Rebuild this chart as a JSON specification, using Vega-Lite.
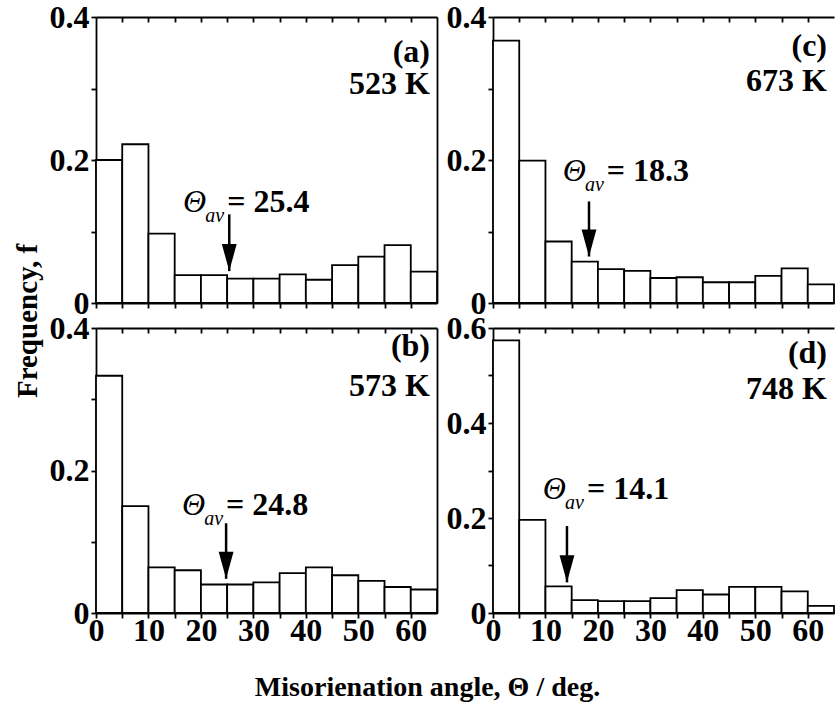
{
"$schema": "https://vega.github.io/schema/vega-lite/v6.json",
"padding": {"left": 13, "top": 1, "right": 0, "bottom": 2},
"datasets": {
"bars": [
{"p":"a","x0":0,"x1":5,"f":0.200},{"p":"a","x0":5,"x1":10,"f":0.222},{"p":"a","x0":10,"x1":15,"f":0.097},{"p":"a","x0":15,"x1":20,"f":0.039},{"p":"a","x0":20,"x1":25,"f":0.039},{"p":"a","x0":25,"x1":30,"f":0.034},{"p":"a","x0":30,"x1":35,"f":0.034},{"p":"a","x0":35,"x1":40,"f":0.040},{"p":"a","x0":40,"x1":45,"f":0.0325},{"p":"a","x0":45,"x1":50,"f":0.053},{"p":"a","x0":50,"x1":55,"f":0.065},{"p":"a","x0":55,"x1":60,"f":0.081},{"p":"a","x0":60,"x1":65,"f":0.044},
{"p":"b","x0":0,"x1":5,"f":0.333},{"p":"b","x0":5,"x1":10,"f":0.150},{"p":"b","x0":10,"x1":15,"f":0.064},{"p":"b","x0":15,"x1":20,"f":0.060},{"p":"b","x0":20,"x1":25,"f":0.040},{"p":"b","x0":25,"x1":30,"f":0.040},{"p":"b","x0":30,"x1":35,"f":0.043},{"p":"b","x0":35,"x1":40,"f":0.056},{"p":"b","x0":40,"x1":45,"f":0.064},{"p":"b","x0":45,"x1":50,"f":0.053},{"p":"b","x0":50,"x1":55,"f":0.045},{"p":"b","x0":55,"x1":60,"f":0.0365},{"p":"b","x0":60,"x1":65,"f":0.033},
{"p":"c","x0":0,"x1":5,"f":0.367},{"p":"c","x0":5,"x1":10,"f":0.199},{"p":"c","x0":10,"x1":15,"f":0.086},{"p":"c","x0":15,"x1":20,"f":0.058},{"p":"c","x0":20,"x1":25,"f":0.0475},{"p":"c","x0":25,"x1":30,"f":0.045},{"p":"c","x0":30,"x1":35,"f":0.035},{"p":"c","x0":35,"x1":40,"f":0.036},{"p":"c","x0":40,"x1":45,"f":0.029},{"p":"c","x0":45,"x1":50,"f":0.029},{"p":"c","x0":50,"x1":55,"f":0.038},{"p":"c","x0":55,"x1":60,"f":0.0485},{"p":"c","x0":60,"x1":65,"f":0.026},
{"p":"d","x0":0,"x1":5,"f":0.574},{"p":"d","x0":5,"x1":10,"f":0.196},{"p":"d","x0":10,"x1":15,"f":0.056},{"p":"d","x0":15,"x1":20,"f":0.027},{"p":"d","x0":20,"x1":25,"f":0.025},{"p":"d","x0":25,"x1":30,"f":0.025},{"p":"d","x0":30,"x1":35,"f":0.0315},{"p":"d","x0":35,"x1":40,"f":0.048},{"p":"d","x0":40,"x1":45,"f":0.039},{"p":"d","x0":45,"x1":50,"f":0.055},{"p":"d","x0":50,"x1":55,"f":0.055},{"p":"d","x0":55,"x1":60,"f":0.0455},{"p":"d","x0":60,"x1":65,"f":0.015}
],
"ann": [
{"p":"a","avg":25.4,"top":0.124,"tip":0.0446,"lx":25.0,"ly":0.127,"lab":"= 25.4"},
{"p":"b","avg":24.8,"top":0.126,"tip":0.048,"lx":24.8,"ly":0.138,"lab":"= 24.8"},
{"p":"c","avg":18.3,"top":0.142,"tip":0.065,"lx":21.7,"ly":0.170,"lab":"= 18.3"},
{"p":"d","avg":14.1,"top":0.183,"tip":0.0645,"lx":17.9,"ly":0.239,"lab":"= 14.1"}
],
"tags": [
{"p":"a","t":"(a)","x":65,"y":0.337},{"p":"a","t":"523 K","x":65,"y":0.293},
{"p":"b","t":"(b)","x":65,"y":0.361},{"p":"b","t":"573 K","x":65,"y":0.305},
{"p":"c","t":"(c)","x":65,"y":0.345},{"p":"c","t":"673 K","x":65,"y":0.297},
{"p":"d","t":"(d)","x":65,"y":0.527},{"p":"d","t":"748 K","x":65,"y":0.451}
]
},
"title": {"text": "Frequency, f", "orient": "left", "anchor": "middle", "fontSize": 29, "offset": 6, "dx": 30},
"columns": 2,
"spacing": {"row": 25, "column": 56},
"bounds": "flush",
"concat": [
{"width": 341, "height": 286,
"resolve": {"axis": {"x": "independent", "y": "independent"}},
"layer": [
{"data": {"name": "bars"}, "transform": [{"filter": "datum.p=='a'"}],
"mark": {"type": "bar", "fill": "white", "stroke": "black", "strokeWidth": 1.8},
"encoding": {
"x": {"field": "x0", "type": "quantitative", "scale": {"domain": [0,65], "nice": false, "zero": false}, "axis": {"orient": "bottom", "values": [0,5,10,15,20,25,30,35,40,45,50,55,60], "labels": false, "tickSize": 5, "title": null}},
"x2": {"field": "x1"},
"y": {"field": "f", "type": "quantitative", "scale": {"domain": [0,0.4], "nice": false}, "axis": {"orient": "left", "values": [0,0.1,0.2,0.3,0.4], "labelExpr": "datum.value == 0 ? '0' : (round(datum.value*10) % 2 == 0 ? format(datum.value,'.1f') : '')", "tickSize": 5, "title": null}},
"y2": {"datum": 0}}},
{"data": {"name": "ann"}, "transform": [{"filter": "datum.p=='a'"}],
"mark": {"type": "rule", "strokeWidth": 2.5, "color": "black"},
"encoding": {
"x": {"field": "avg", "type": "quantitative", "scale": {"domain": [0,65], "nice": false, "zero": false}, "axis": {"orient": "top", "values": [5,10,15,20,25,30,35,40,45,50,55,60], "labels": false, "tickSize": -5, "title": null}},
"y": {"field": "top", "type": "quantitative", "scale": {"domain": [0,0.4], "nice": false}, "axis": {"orient": "right", "ticks": false, "labels": false, "title": null}},
"y2": {"field": "tip"}}},
{"data": {"name": "ann"}, "transform": [{"filter": "datum.p=='a'"}],
"mark": {"type": "point", "shape": "M -0.55 -2 L 0.55 -2 L 0 0 Z", "size": 729, "filled": true, "color": "black", "opacity": 1},
"encoding": {
"x": {"field": "avg", "type": "quantitative", "scale": {"domain": [0,65], "nice": false, "zero": false}, "axis": null},
"y": {"field": "tip", "type": "quantitative", "scale": {"domain": [0,0.4], "nice": false}, "axis": null}}},
{"data": {"name": "ann"}, "transform": [{"filter": "datum.p=='a'"}],
"mark": {"type": "text", "text": "Θ", "fontStyle": "italic", "fontSize": 32, "align": "right", "baseline": "alphabetic", "dx": -21},
"encoding": {
"x": {"field": "lx", "type": "quantitative", "scale": {"domain": [0,65], "nice": false, "zero": false}, "axis": null},
"y": {"field": "ly", "type": "quantitative", "scale": {"domain": [0,0.4], "nice": false}, "axis": null}}},
{"data": {"name": "ann"}, "transform": [{"filter": "datum.p=='a'"}],
"mark": {"type": "text", "text": "av", "fontStyle": "italic", "fontSize": 20, "align": "right", "baseline": "alphabetic", "dx": -3, "dy": 10},
"encoding": {
"x": {"field": "lx", "type": "quantitative", "scale": {"domain": [0,65], "nice": false, "zero": false}, "axis": null},
"y": {"field": "ly", "type": "quantitative", "scale": {"domain": [0,0.4], "nice": false}, "axis": null}}},
{"data": {"name": "ann"}, "transform": [{"filter": "datum.p=='a'"}],
"mark": {"type": "text", "fontWeight": "bold", "fontSize": 32, "align": "left", "baseline": "alphabetic"},
"encoding": {
"x": {"field": "lx", "type": "quantitative", "scale": {"domain": [0,65], "nice": false, "zero": false}, "axis": null},
"y": {"field": "ly", "type": "quantitative", "scale": {"domain": [0,0.4], "nice": false}, "axis": null},
"text": {"field": "lab"}}},
{"data": {"name": "tags"}, "transform": [{"filter": "datum.p=='a'"}],
"mark": {"type": "text", "fontWeight": "bold", "fontSize": 32, "align": "right", "baseline": "alphabetic", "dx": -7},
"encoding": {
"x": {"field": "x", "type": "quantitative", "scale": {"domain": [0,65], "nice": false, "zero": false}, "axis": null},
"y": {"field": "y", "type": "quantitative", "scale": {"domain": [0,0.4], "nice": false}, "axis": null},
"text": {"field": "t"}}}
]},
{"width": 341, "height": 286,
"resolve": {"axis": {"x": "independent", "y": "independent"}},
"layer": [
{"data": {"name": "bars"}, "transform": [{"filter": "datum.p=='c'"}],
"mark": {"type": "bar", "fill": "white", "stroke": "black", "strokeWidth": 1.8},
"encoding": {
"x": {"field": "x0", "type": "quantitative", "scale": {"domain": [0,65], "nice": false, "zero": false}, "axis": {"orient": "bottom", "values": [0,5,10,15,20,25,30,35,40,45,50,55,60], "labels": false, "tickSize": 5, "title": null}},
"x2": {"field": "x1"},
"y": {"field": "f", "type": "quantitative", "scale": {"domain": [0,0.4], "nice": false}, "axis": {"orient": "left", "values": [0,0.1,0.2,0.3,0.4], "labelExpr": "datum.value == 0 ? '0' : (round(datum.value*10) % 2 == 0 ? format(datum.value,'.1f') : '')", "tickSize": 5, "title": null}},
"y2": {"datum": 0}}},
{"data": {"name": "ann"}, "transform": [{"filter": "datum.p=='c'"}],
"mark": {"type": "rule", "strokeWidth": 2.5, "color": "black"},
"encoding": {
"x": {"field": "avg", "type": "quantitative", "scale": {"domain": [0,65], "nice": false, "zero": false}, "axis": {"orient": "top", "values": [5,10,15,20,25,30,35,40,45,50,55,60], "labels": false, "tickSize": -5, "title": null}},
"y": {"field": "top", "type": "quantitative", "scale": {"domain": [0,0.4], "nice": false}, "axis": null},
"y2": {"field": "tip"}}},
{"data": {"name": "ann"}, "transform": [{"filter": "datum.p=='c'"}],
"mark": {"type": "point", "shape": "M -0.55 -2 L 0.55 -2 L 0 0 Z", "size": 729, "filled": true, "color": "black", "opacity": 1},
"encoding": {
"x": {"field": "avg", "type": "quantitative", "scale": {"domain": [0,65], "nice": false, "zero": false}, "axis": null},
"y": {"field": "tip", "type": "quantitative", "scale": {"domain": [0,0.4], "nice": false}, "axis": null}}},
{"data": {"name": "ann"}, "transform": [{"filter": "datum.p=='c'"}],
"mark": {"type": "text", "text": "Θ", "fontStyle": "italic", "fontSize": 32, "align": "right", "baseline": "alphabetic", "dx": -21},
"encoding": {
"x": {"field": "lx", "type": "quantitative", "scale": {"domain": [0,65], "nice": false, "zero": false}, "axis": null},
"y": {"field": "ly", "type": "quantitative", "scale": {"domain": [0,0.4], "nice": false}, "axis": null}}},
{"data": {"name": "ann"}, "transform": [{"filter": "datum.p=='c'"}],
"mark": {"type": "text", "text": "av", "fontStyle": "italic", "fontSize": 20, "align": "right", "baseline": "alphabetic", "dx": -3, "dy": 10},
"encoding": {
"x": {"field": "lx", "type": "quantitative", "scale": {"domain": [0,65], "nice": false, "zero": false}, "axis": null},
"y": {"field": "ly", "type": "quantitative", "scale": {"domain": [0,0.4], "nice": false}, "axis": null}}},
{"data": {"name": "ann"}, "transform": [{"filter": "datum.p=='c'"}],
"mark": {"type": "text", "fontWeight": "bold", "fontSize": 32, "align": "left", "baseline": "alphabetic"},
"encoding": {
"x": {"field": "lx", "type": "quantitative", "scale": {"domain": [0,65], "nice": false, "zero": false}, "axis": null},
"y": {"field": "ly", "type": "quantitative", "scale": {"domain": [0,0.4], "nice": false}, "axis": null},
"text": {"field": "lab"}}},
{"data": {"name": "tags"}, "transform": [{"filter": "datum.p=='c'"}],
"mark": {"type": "text", "fontWeight": "bold", "fontSize": 32, "align": "right", "baseline": "alphabetic", "dx": -7},
"encoding": {
"x": {"field": "x", "type": "quantitative", "scale": {"domain": [0,65], "nice": false, "zero": false}, "axis": null},
"y": {"field": "y", "type": "quantitative", "scale": {"domain": [0,0.4], "nice": false}, "axis": null},
"text": {"field": "t"}}}
]},
{"width": 341, "height": 285,
"resolve": {"axis": {"x": "independent", "y": "independent"}},
"layer": [
{"data": {"name": "bars"}, "transform": [{"filter": "datum.p=='b'"}],
"mark": {"type": "bar", "fill": "white", "stroke": "black", "strokeWidth": 1.8},
"encoding": {
"x": {"field": "x0", "type": "quantitative", "scale": {"domain": [0,65], "nice": false, "zero": false}, "axis": {"orient": "bottom", "values": [0,5,10,15,20,25,30,35,40,45,50,55,60], "labelExpr": "datum.value % 10 == 0 ? datum.label : ''", "tickSize": 5, "labelPadding": -3, "title": "Misorienation angle, Θ / deg.", "titleFont": "Liberation Serif", "titleFontSize": 28, "titleFontWeight": "bold", "titleColor": "black", "titleX": 331, "titlePadding": 27}},
"x2": {"field": "x1"},
"y": {"field": "f", "type": "quantitative", "scale": {"domain": [0,0.4], "nice": false}, "axis": {"orient": "left", "values": [0,0.1,0.2,0.3,0.4], "labelExpr": "datum.value == 0 ? '0' : (round(datum.value*10) % 2 == 0 ? format(datum.value,'.1f') : '')", "tickSize": 5, "title": null}},
"y2": {"datum": 0}}},
{"data": {"name": "ann"}, "transform": [{"filter": "datum.p=='b'"}],
"mark": {"type": "rule", "strokeWidth": 2.5, "color": "black"},
"encoding": {
"x": {"field": "avg", "type": "quantitative", "scale": {"domain": [0,65], "nice": false, "zero": false}, "axis": {"orient": "top", "values": [5,10,15,20,25,30,35,40,45,50,55,60], "labels": false, "tickSize": -5, "title": null}},
"y": {"field": "top", "type": "quantitative", "scale": {"domain": [0,0.4], "nice": false}, "axis": {"orient": "right", "ticks": false, "labels": false, "title": null}},
"y2": {"field": "tip"}}},
{"data": {"name": "ann"}, "transform": [{"filter": "datum.p=='b'"}],
"mark": {"type": "point", "shape": "M -0.55 -2 L 0.55 -2 L 0 0 Z", "size": 729, "filled": true, "color": "black", "opacity": 1},
"encoding": {
"x": {"field": "avg", "type": "quantitative", "scale": {"domain": [0,65], "nice": false, "zero": false}, "axis": null},
"y": {"field": "tip", "type": "quantitative", "scale": {"domain": [0,0.4], "nice": false}, "axis": null}}},
{"data": {"name": "ann"}, "transform": [{"filter": "datum.p=='b'"}],
"mark": {"type": "text", "text": "Θ", "fontStyle": "italic", "fontSize": 32, "align": "right", "baseline": "alphabetic", "dx": -21},
"encoding": {
"x": {"field": "lx", "type": "quantitative", "scale": {"domain": [0,65], "nice": false, "zero": false}, "axis": null},
"y": {"field": "ly", "type": "quantitative", "scale": {"domain": [0,0.4], "nice": false}, "axis": null}}},
{"data": {"name": "ann"}, "transform": [{"filter": "datum.p=='b'"}],
"mark": {"type": "text", "text": "av", "fontStyle": "italic", "fontSize": 20, "align": "right", "baseline": "alphabetic", "dx": -3, "dy": 10},
"encoding": {
"x": {"field": "lx", "type": "quantitative", "scale": {"domain": [0,65], "nice": false, "zero": false}, "axis": null},
"y": {"field": "ly", "type": "quantitative", "scale": {"domain": [0,0.4], "nice": false}, "axis": null}}},
{"data": {"name": "ann"}, "transform": [{"filter": "datum.p=='b'"}],
"mark": {"type": "text", "fontWeight": "bold", "fontSize": 32, "align": "left", "baseline": "alphabetic"},
"encoding": {
"x": {"field": "lx", "type": "quantitative", "scale": {"domain": [0,65], "nice": false, "zero": false}, "axis": null},
"y": {"field": "ly", "type": "quantitative", "scale": {"domain": [0,0.4], "nice": false}, "axis": null},
"text": {"field": "lab"}}},
{"data": {"name": "tags"}, "transform": [{"filter": "datum.p=='b'"}],
"mark": {"type": "text", "fontWeight": "bold", "fontSize": 32, "align": "right", "baseline": "alphabetic", "dx": -7},
"encoding": {
"x": {"field": "x", "type": "quantitative", "scale": {"domain": [0,65], "nice": false, "zero": false}, "axis": null},
"y": {"field": "y", "type": "quantitative", "scale": {"domain": [0,0.4], "nice": false}, "axis": null},
"text": {"field": "t"}}}
]},
{"width": 341, "height": 285,
"resolve": {"axis": {"x": "independent", "y": "independent"}},
"layer": [
{"data": {"name": "bars"}, "transform": [{"filter": "datum.p=='d'"}],
"mark": {"type": "bar", "fill": "white", "stroke": "black", "strokeWidth": 1.8},
"encoding": {
"x": {"field": "x0", "type": "quantitative", "scale": {"domain": [0,65], "nice": false, "zero": false}, "axis": {"orient": "bottom", "values": [0,5,10,15,20,25,30,35,40,45,50,55,60], "labelExpr": "datum.value % 10 == 0 ? datum.label : ''", "tickSize": 5, "labelPadding": -3, "title": null}},
"x2": {"field": "x1"},
"y": {"field": "f", "type": "quantitative", "scale": {"domain": [0,0.6], "nice": false}, "axis": {"orient": "left", "values": [0,0.1,0.2,0.3,0.4,0.5,0.6], "labelExpr": "datum.value == 0 ? '0' : (round(datum.value*10) % 2 == 0 ? format(datum.value,'.1f') : '')", "tickSize": 5, "title": null}},
"y2": {"datum": 0}}},
{"data": {"name": "ann"}, "transform": [{"filter": "datum.p=='d'"}],
"mark": {"type": "rule", "strokeWidth": 2.5, "color": "black"},
"encoding": {
"x": {"field": "avg", "type": "quantitative", "scale": {"domain": [0,65], "nice": false, "zero": false}, "axis": {"orient": "top", "values": [5,10,15,20,25,30,35,40,45,50,55,60], "labels": false, "tickSize": -5, "title": null}},
"y": {"field": "top", "type": "quantitative", "scale": {"domain": [0,0.6], "nice": false}, "axis": null},
"y2": {"field": "tip"}}},
{"data": {"name": "ann"}, "transform": [{"filter": "datum.p=='d'"}],
"mark": {"type": "point", "shape": "M -0.55 -2 L 0.55 -2 L 0 0 Z", "size": 729, "filled": true, "color": "black", "opacity": 1},
"encoding": {
"x": {"field": "avg", "type": "quantitative", "scale": {"domain": [0,65], "nice": false, "zero": false}, "axis": null},
"y": {"field": "tip", "type": "quantitative", "scale": {"domain": [0,0.6], "nice": false}, "axis": null}}},
{"data": {"name": "ann"}, "transform": [{"filter": "datum.p=='d'"}],
"mark": {"type": "text", "text": "Θ", "fontStyle": "italic", "fontSize": 32, "align": "right", "baseline": "alphabetic", "dx": -21},
"encoding": {
"x": {"field": "lx", "type": "quantitative", "scale": {"domain": [0,65], "nice": false, "zero": false}, "axis": null},
"y": {"field": "ly", "type": "quantitative", "scale": {"domain": [0,0.6], "nice": false}, "axis": null}}},
{"data": {"name": "ann"}, "transform": [{"filter": "datum.p=='d'"}],
"mark": {"type": "text", "text": "av", "fontStyle": "italic", "fontSize": 20, "align": "right", "baseline": "alphabetic", "dx": -3, "dy": 10},
"encoding": {
"x": {"field": "lx", "type": "quantitative", "scale": {"domain": [0,65], "nice": false, "zero": false}, "axis": null},
"y": {"field": "ly", "type": "quantitative", "scale": {"domain": [0,0.6], "nice": false}, "axis": null}}},
{"data": {"name": "ann"}, "transform": [{"filter": "datum.p=='d'"}],
"mark": {"type": "text", "fontWeight": "bold", "fontSize": 32, "align": "left", "baseline": "alphabetic"},
"encoding": {
"x": {"field": "lx", "type": "quantitative", "scale": {"domain": [0,65], "nice": false, "zero": false}, "axis": null},
"y": {"field": "ly", "type": "quantitative", "scale": {"domain": [0,0.6], "nice": false}, "axis": null},
"text": {"field": "lab"}}},
{"data": {"name": "tags"}, "transform": [{"filter": "datum.p=='d'"}],
"mark": {"type": "text", "fontWeight": "bold", "fontSize": 32, "align": "right", "baseline": "alphabetic", "dx": -7},
"encoding": {
"x": {"field": "x", "type": "quantitative", "scale": {"domain": [0,65], "nice": false, "zero": false}, "axis": null},
"y": {"field": "y", "type": "quantitative", "scale": {"domain": [0,0.6], "nice": false}, "axis": null},
"text": {"field": "t"}}}
]}
],
"config": {
"view": {"stroke": null},
"axis": {"domainColor": "black", "domainWidth": 1.8, "tickColor": "black", "tickWidth": 1.8, "labelFont": "Liberation Serif", "labelFontSize": 32, "labelFontWeight": "bold", "labelColor": "black", "labelPadding": 2, "grid": false, "labelFlush": false, "labelOverlap": false},
"text": {"font": "Liberation Serif", "color": "black"},
"title": {"font": "Liberation Serif", "fontWeight": "bold", "color": "black"}
}
}
